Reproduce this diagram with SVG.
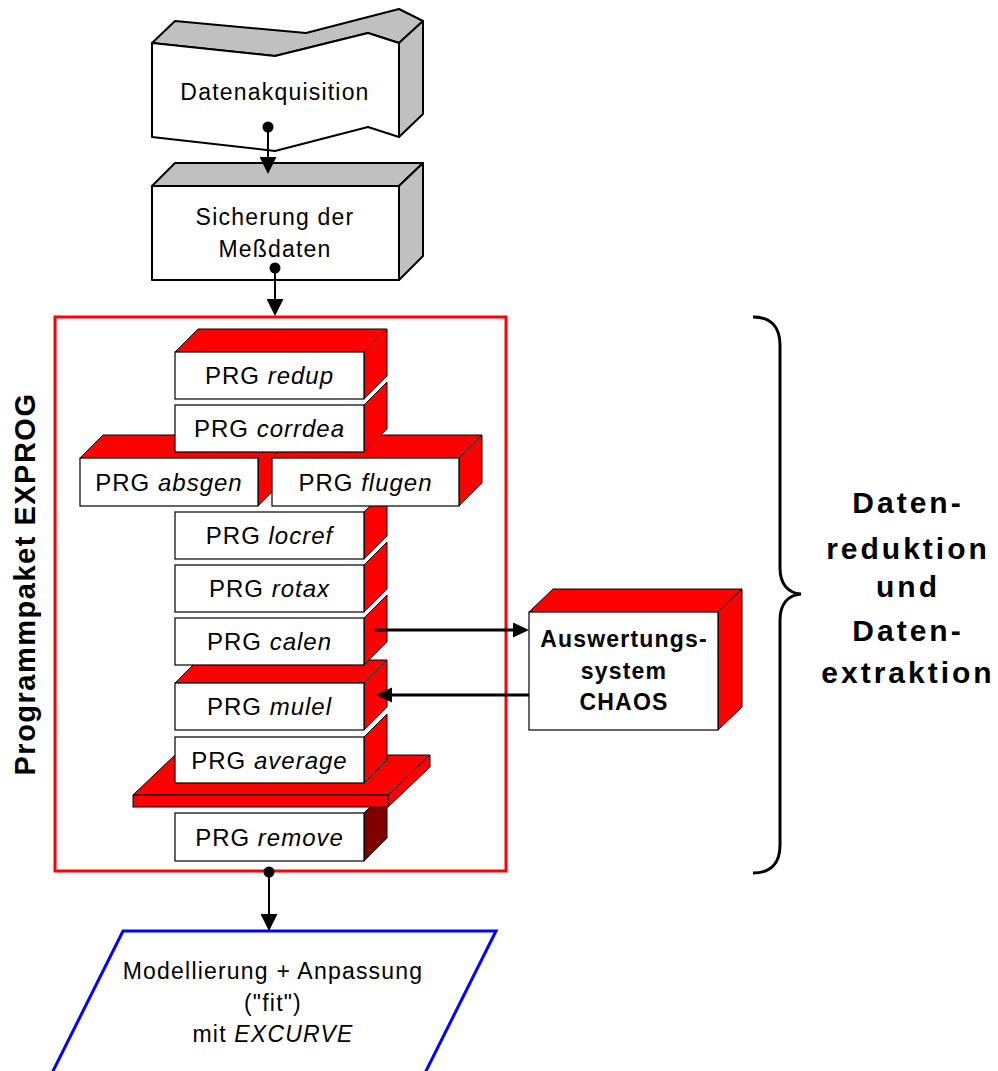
<svg xmlns="http://www.w3.org/2000/svg" width="998" height="1071" viewBox="0 0 998 1071">
<defs>
<style>
text{font-family:"Liberation Sans",Arial,sans-serif;fill:#000}
.t{font-size:23px;letter-spacing:1.2px;text-anchor:middle}
.p{font-size:24px;letter-spacing:1px;text-anchor:middle}
.b{font-weight:bold;text-anchor:middle}
.i{font-style:italic}
.gray{fill:#C0C0C0;stroke:#000;stroke-width:2;stroke-linejoin:round}
.wf{fill:#fff;stroke:#000;stroke-width:2;stroke-linejoin:round}
.red{fill:#FF0000;stroke:#000;stroke-width:1}
.dred{fill:#800000;stroke:#000;stroke-width:1}
.fr{fill:#fff;stroke:#000;stroke-width:1.2}
.conn{fill:none;stroke:#000;stroke-width:2}
.conn3{fill:none;stroke:#000;stroke-width:3}
</style>
<marker id="arr" markerUnits="userSpaceOnUse" markerWidth="17" markerHeight="17" refX="7" refY="8.5" orient="auto">
<path d="M0,0 L17,8.5 L0,17 z" fill="#000"/>
</marker>
<marker id="arrh" markerUnits="userSpaceOnUse" markerWidth="16" markerHeight="16" refX="6" refY="7.5" orient="auto">
<path d="M0,0 L16,7.5 L0,15 z" fill="#000"/>
</marker>
<marker id="dot" markerUnits="userSpaceOnUse" markerWidth="14" markerHeight="14" refX="7" refY="7" orient="auto">
<circle cx="7" cy="7" r="5.5" fill="#000"/>
</marker>
</defs>

<g id="datenakquisition">
<polygon class="gray" points="152,43 275,56 368,33 399,43 423,21 399,9 306,33 175,21"/>
<polygon class="gray" points="399,43 423,21 423,114 399,137"/>
<polygon class="wf" points="152,43 275,56 368,33 399,43 399,137 368,127 275,151 152,137"/>
<text class="t" x="275" y="100">Datenakquisition</text>
</g>

<g id="sicherung">
<polygon class="gray" points="152,186 175,163 423,163 399,186"/>
<polygon class="gray" points="399,186 423,163 423,256 399,280"/>
<rect class="wf" x="152" y="186" width="247" height="94"/>
<text class="t" x="275" y="225">Sicherung der</text>
<text class="t" x="275" y="257">Meßdaten</text>
</g>

<g id="exprog">
<rect x="55" y="317" width="451" height="554" fill="none" stroke="#FF0000" stroke-width="3"/>
<text class="b" font-size="29" letter-spacing="1.5" transform="translate(35,584) rotate(-90)">Programmpaket EXPROG</text>
</g>

<g id="prg-remove">
<polygon class="dred" points="364,813 387,790 387,838 364,861"/>
<rect class="fr" x="175" y="813" width="189" height="48"/>
<text class="p" x="269.5" y="845.5">PRG <tspan class="i">remove</tspan></text>
</g>

<g id="platform">
<polygon class="red" points="133,795 175,755 430,755 388,795"/>
<polygon class="red" points="388,795 430,755 430,767 388,807"/>
<rect class="red" x="133" y="795" width="255" height="12"/>
</g>

<g id="prg-average">
<polygon class="red" points="364,737 387,714 387,760 364,783"/>
<rect class="fr" x="175" y="737" width="189" height="46"/>
<text class="p" x="269.5" y="768.5">PRG <tspan class="i">average</tspan></text>
</g>

<g id="prg-mulel">
<polygon class="red" points="175,683 198,660 387,660 364,683"/>
<polygon class="red" points="364,683 387,660 387,707 364,730"/>
<rect class="fr" x="175" y="683" width="189" height="47"/>
<text class="p" x="269.5" y="715">PRG <tspan class="i">mulel</tspan></text>
</g>

<g id="prg-calen">
<polygon class="red" points="364,618 387,595 387,642 364,665"/>
<rect class="fr" x="175" y="618" width="189" height="47"/>
<text class="p" x="269.5" y="650">PRG <tspan class="i">calen</tspan></text>
</g>

<g id="prg-rotax">
<polygon class="red" points="364,565 387,542 387,589 364,612"/>
<rect class="fr" x="175" y="565" width="189" height="47"/>
<text class="p" x="269.5" y="597">PRG <tspan class="i">rotax</tspan></text>
</g>

<g id="prg-locref">
<polygon class="red" points="364,512 387,489 387,536 364,559"/>
<rect class="fr" x="175" y="512" width="189" height="47"/>
<text class="p" x="269.5" y="544">PRG <tspan class="i">locref</tspan></text>
</g>

<g id="prg-absgen">
<polygon class="red" points="80,458 103,435 281,435 258,458"/>
<polygon class="red" points="258,458 281,435 281,483 258,506"/>
<rect class="fr" x="80" y="458" width="178" height="48"/>
<text class="p" x="169" y="490.5">PRG <tspan class="i">absgen</tspan></text>
</g>

<g id="prg-flugen">
<polygon class="red" points="272,458 295,435 482,435 459,458"/>
<polygon class="red" points="459,458 482,435 482,483 459,506"/>
<rect class="fr" x="272" y="458" width="187" height="48"/>
<text class="p" x="365.5" y="490.5">PRG <tspan class="i">flugen</tspan></text>
</g>

<g id="prg-corrdea">
<polygon class="red" points="364,405 387,382 387,429 364,452"/>
<rect class="fr" x="175" y="405" width="189" height="47"/>
<text class="p" x="269.5" y="437">PRG <tspan class="i">corrdea</tspan></text>
</g>

<g id="prg-redup">
<polygon class="red" points="175,352 198,329 387,329 364,352"/>
<polygon class="red" points="364,352 387,329 387,376 364,399"/>
<rect class="fr" x="175" y="352" width="189" height="47"/>
<text class="p" x="269.5" y="384">PRG <tspan class="i">redup</tspan></text>
</g>

<g id="chaos">
<polygon class="red" points="529,612 553,589 742,589 718,612"/>
<polygon class="red" points="718,612 742,589 742,707 718,730"/>
<rect class="fr" x="529" y="612" width="189" height="118"/>
<text class="b" font-size="23" letter-spacing="1.2" x="624" y="647">Auswertungs-</text>
<text class="b" font-size="23" letter-spacing="1.2" x="624" y="679">system</text>
<text class="b" font-size="23" letter-spacing="1.2" x="624" y="710">CHAOS</text>
</g>

<g id="modellierung">
<polygon points="123,931 496,931 421.5,1080 48.5,1080" fill="#fff" stroke="#0000FF" stroke-width="3"/>
<text class="t" x="273" y="979">Modellierung + Anpassung</text>
<text class="t" x="273" y="1011">("fit")</text>
<text class="t" x="273" y="1042">mit <tspan class="i">EXCURVE</tspan></text>
</g>

<g id="brace">
<path d="M753,317 C771,317 780,327 780,345 L780,568 C780,584 788,593 801,594 C788,595 780,604 780,620 L780,845 C780,863 771,873 753,873" fill="none" stroke="#000" stroke-width="3"/>
<text class="b" font-size="30" letter-spacing="3" x="908" y="513">Daten-</text>
<text class="b" font-size="30" letter-spacing="3" x="908" y="559">reduktion</text>
<text class="b" font-size="30" letter-spacing="3" x="908" y="597">und</text>
<text class="b" font-size="30" letter-spacing="3" x="908" y="641">Daten-</text>
<text class="b" font-size="30" letter-spacing="3" x="908" y="683">extraktion</text>
</g>

<g id="connectors">
<path class="conn" d="M268,127 L268,164" marker-start="url(#dot)" marker-end="url(#arr)"/>
<path class="conn" d="M275,268 L275,306" marker-start="url(#dot)" marker-end="url(#arr)"/>
<path class="conn" d="M269,872 L269,921" marker-start="url(#dot)" marker-end="url(#arr)"/>
<path class="conn3" stroke-linecap="round" d="M376,630 L519,630" marker-end="url(#arrh)"/>
<path class="conn3" d="M529,695 L386,695" marker-end="url(#arrh)"/>
</g>
</svg>
